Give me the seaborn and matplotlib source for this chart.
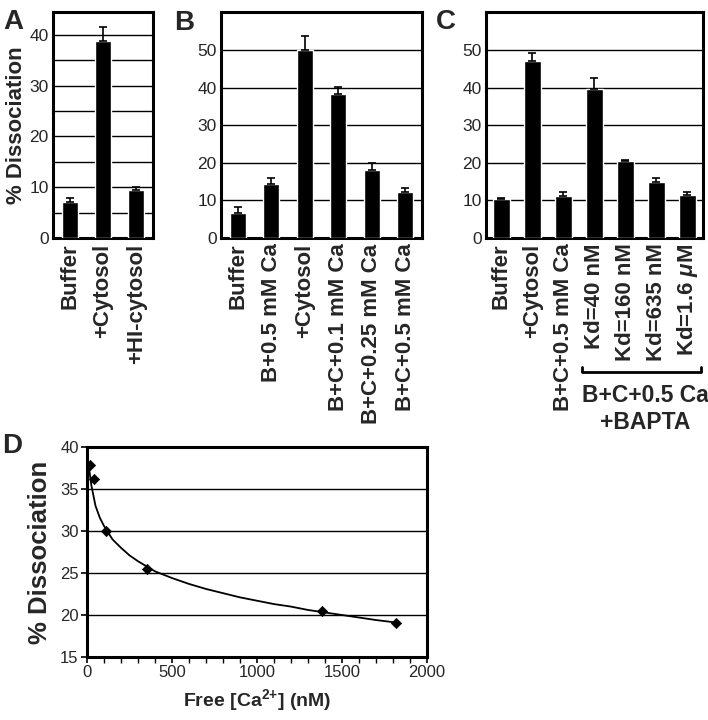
import matplotlib
matplotlib.use("Agg")
import pandas as pd
import seaborn as sns
import matplotlib.pyplot as plt
import matplotlib.transforms as mtransforms
from matplotlib.ticker import MultipleLocator

# panel A
a_labels = ['Buffer', '+Cytosol', '+HI-cytosol']
a_values = [7.0, 38.7, 9.4]
a_errors = [0.8, 2.9, 0.6]

# panel B
b_labels = ['Buffer', 'B+0.5 mM Ca', '+Cytosol', 'B+C+0.1 mM Ca',
            'B+C+0.25 mM Ca', 'B+C+0.5 mM Ca']
b_values = [6.7, 14.5, 50.0, 38.4, 18.2, 12.3]
b_errors = [1.6, 1.5, 3.9, 1.7, 1.8, 1.0]

# panel C
c_labels = ['Buffer', '+Cytosol', 'B+C+0.5 mM Ca', 'Kd=40 nM',
            'Kd=160 nM', 'Kd=635 nM', r'Kd=1.6 $\mu$M']
c_values = [10.4, 47.1, 11.2, 39.7, 20.4, 15.0, 11.4]
c_errors = [0.3, 2.3, 1.0, 3.0, 0.4, 1.0, 0.8]

d_ca = [20, 40, 110, 350, 1380, 1820]
d_diss = [37.8, 36.2, 30.0, 25.5, 20.5, 19.1]
fit_ca = [10, 25, 50, 75, 100, 150, 200, 250, 300, 400, 500, 600, 700, 800,
          900, 1000, 1100, 1200, 1300, 1400, 1500, 1600, 1700, 1820]
fit_diss = [37.8, 35.5, 33.0, 31.6, 30.6, 29.0, 28.0, 27.1, 26.4, 25.2, 24.4,
            23.7, 23.1, 22.6, 22.1, 21.7, 21.3, 21.0, 20.6, 20.3, 20.0, 19.7,
            19.4, 19.1]

sns.set_theme(style="white")
plt.rcParams['font.family'] = ['Liberation Sans', 'DejaVu Sans']
plt.rcParams['mathtext.fontset'] = 'custom'
plt.rcParams['mathtext.rm'] = 'Liberation Sans'
plt.rcParams['mathtext.it'] = 'Liberation Sans:italic:bold'
plt.rcParams['mathtext.bf'] = 'Liberation Sans:bold'

W, H = 708, 720
fig = plt.figure(figsize=(W / 100, H / 100), dpi=100)


def px_axes(left, top, right, bottom):
    return fig.add_axes([left / W, 1 - bottom / H, (right - left) / W, (bottom - top) / H])


def bar_panel(ax, labels, values, errors, ymax, grid_step, yticks, width):
    df = pd.DataFrame({'label': labels, 'value': values})
    sns.barplot(data=df, x='label', y='value', color='black', width=width,
                saturation=1, ax=ax, zorder=3)
    ax.errorbar(range(len(values)), values, yerr=[[0] * len(values), errors],
                fmt='none', ecolor='black', elinewidth=1.2, capsize=3,
                capthick=1.2, zorder=4)
    ax.set_xlim(-0.5, len(values) - 0.5)
    ax.set_ylim(0, ymax)
    ax.set_yticks(yticks)
    g = grid_step
    while g < ymax - 0.5:
        ax.axhline(g, color='black', lw=1.0, zorder=1)
        g += grid_step
    ax.set_xlabel('')
    ax.set_ylabel('')
    ax.set_xticks(range(len(labels)))
    ax.set_xticklabels(labels, rotation=90, fontsize=16, fontweight='bold',
                       ha='center', va='top')
    ax.tick_params(axis='y', labelsize=12.5, length=0, pad=3)
    ax.tick_params(axis='x', length=0, pad=4)
    for s in ax.spines.values():
        s.set_visible(True)
        s.set_linewidth(2.2)
        s.set_color('black')


axA = px_axes(53, 12, 153, 238)
bar_panel(axA, a_labels, a_values, a_errors, 44.5, 5, range(0, 41, 10), 0.48)
axA.set_ylabel('% Dissociation', fontsize=16, fontweight='bold', labelpad=2)

axB = px_axes(221, 12, 422, 238)
bar_panel(axB, b_labels, b_values, b_errors, 60.2, 10, range(0, 51, 10), 0.47)

axC = px_axes(486, 12, 703, 238)
bar_panel(axC, c_labels, c_values, c_errors, 60.2, 10, range(0, 51, 10), 0.52)

# bracket under the BAPTA conditions
tr = mtransforms.blended_transform_factory(axC.transData, axC.transAxes)
axC.plot([2.6, 2.6, 6.45, 6.45], [-0.57, -0.593, -0.593, -0.57], color='black',
         lw=2, transform=tr, clip_on=False)
axC.text(4.65, -0.645, 'B+C+0.5 Ca', transform=tr, ha='center', va='top',
         fontsize=16.5, fontweight='bold')
axC.text(4.65, -0.765, '+BAPTA', transform=tr, ha='center', va='top',
         fontsize=16.5, fontweight='bold')

# panel D
axD = px_axes(87, 447, 427, 657)
for g in [20, 25, 30, 35]:
    axD.axhline(g, color='black', lw=1.0, zorder=1)
sns.lineplot(x=fit_ca, y=fit_diss, color='black', lw=1.3, ax=axD, zorder=3)
sns.scatterplot(x=d_ca, y=d_diss, marker='D', s=28, color='black',
                edgecolor='black', ax=axD, zorder=4)
axD.set_xlim(0, 2000)
axD.set_ylim(15, 40)
axD.set_yticks(range(15, 41, 5))
axD.xaxis.set_major_locator(MultipleLocator(500))
axD.xaxis.set_minor_locator(MultipleLocator(100))
axD.tick_params(axis='both', which='major', labelsize=12, direction='out',
                length=4, width=1.2, color='black', bottom=True, left=True, pad=2)
axD.tick_params(axis='x', which='minor', direction='out', length=4, width=1.0,
                color='black', bottom=True)
for s in axD.spines.values():
    s.set_visible(True)
    s.set_linewidth(2.2)
    s.set_color('black')
axD.set_ylabel('% Dissociation', fontsize=18.5, fontweight='bold', labelpad=6)
axD.set_xlabel(r'Free [Ca$^{\mathbf{2{+}}}$] (nM)', fontsize=14, fontweight='bold',
               labelpad=5)

# panel letters
for letter, x, y in [('A', 3, 9), ('B', 174, 10), ('C', 436, 9), ('D', 2, 433)]:
    fig.text(x / W, 1 - y / H, letter, fontsize=20, fontweight='bold',
             ha='left', va='top')

fig.savefig('out.png', dpi=100)
